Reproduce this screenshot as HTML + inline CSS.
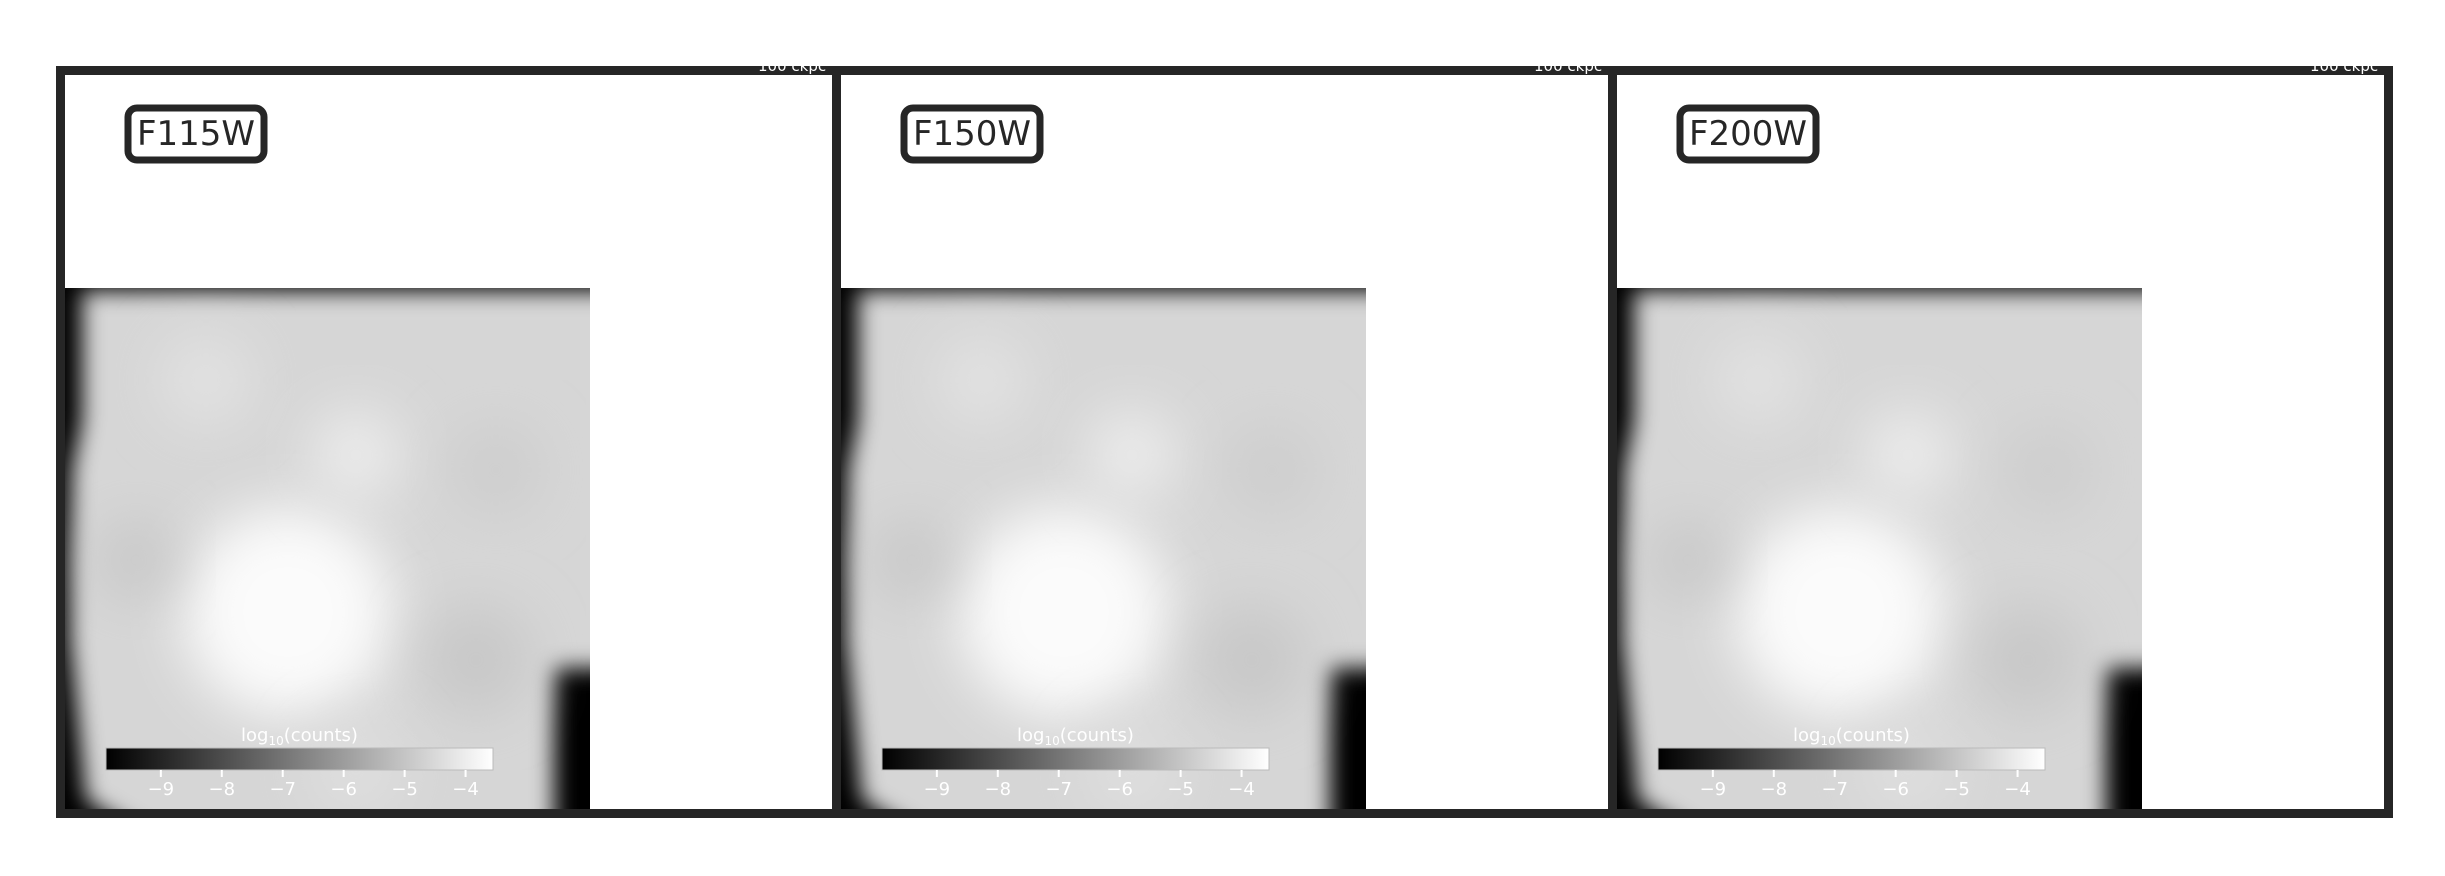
<!DOCTYPE html>
<html><head><meta charset="utf-8">
<style>
html,body{margin:0;padding:0;background:#fff;width:2445px;height:876px;overflow:hidden;font-family:"DejaVu Sans","Liberation Sans",sans-serif;}
svg{display:block}
</style></head>
<body>
<svg id="fig" width="2445" height="876" viewBox="0 0 2445 876" xmlns="http://www.w3.org/2000/svg">
<defs>
<filter id="blur" x="-10%" y="-10%" width="120%" height="120%"><feGaussianBlur stdDeviation="11"/></filter>
<filter id="blur2" x="-50%" y="-50%" width="200%" height="200%"><feGaussianBlur stdDeviation="28"/></filter>
<linearGradient id="cbar" x1="0" x2="1" y1="0" y2="0"><stop offset="0" stop-color="#000"/><stop offset="1" stop-color="#fff"/></linearGradient>
</defs>
</svg>
<script>
const filters=["F115W","F150W","F200W"];
const panelX=[56,832,1608];
const tickValues=[-9,-8,-7,-6,-5,-4];
const cbarMin=-9.9, cbarMax=-3.55;
const NS="http://www.w3.org/2000/svg";
const svgEl=document.getElementById('fig');
function mk(tag,attrs,parent){const e=document.createElementNS(NS,tag);for(const k in attrs)e.setAttribute(k,attrs[k]);(parent||svgEl).appendChild(e);return e;}
const PW=785, frameTop=66, frameBot=818;
const cbX0=106-56, cbX1=493-56;
function xCb(v){return cbX0+(v-cbarMin)/(cbarMax-cbarMin)*(cbX1-cbX0);}
filters.forEach((f,i)=>{
  const g=mk('g',{transform:`translate(${panelX[i]},0)`});
  
  
  const cid='clip'+i;
  const cp=mk('clipPath',{id:cid},g);mk('rect',{x:8,y:288,width:526,height:525},cp);
  const img=mk('g',{'clip-path':`url(#${cid})`},g);
  
  
  mk('rect',{x:8,y:288,width:526,height:525,fill:'#000'},img);
  mk('polygon',{points:'26,291 560,291 560,668 498,668 498,840 96,840 30,800 14,640 16,470 26,420',fill:'#d6d6d6',filter:'url(#blur)'},img);
  mk('circle',{cx:232,cy:612,r:105,fill:'#fbfbfb',filter:'url(#blur2)'},img);
  mk('circle',{cx:300,cy:455,r:45,fill:'#ececec',filter:'url(#blur2)'},img);
  mk('circle',{cx:150,cy:380,r:45,fill:'#e2e2e2',filter:'url(#blur2)'},img);
  mk('circle',{cx:420,cy:660,r:55,fill:'#c8c8c8',filter:'url(#blur2)'},img);
  mk('circle',{cx:440,cy:470,r:45,fill:'#cdcdcd',filter:'url(#blur2)'},img);
  mk('circle',{cx:80,cy:560,r:40,fill:'#c8c8c8',filter:'url(#blur2)'},img);
  mk('circle',{cx:300,cy:770,r:50,fill:'#dedede',filter:'url(#blur2)'},img);
  const fr=mk('rect',{x:4.5,y:frameTop+4.5,width:PW-9,height:frameBot-frameTop-9,fill:'none',stroke:'#262626','stroke-width':9},g);
  
  
  const st=mk('text',{x:702,y:71,fill:'#fff','font-size':15},g);st.textContent='100 ckpc';
  
  
  const lb=mk('rect',{x:72,y:108,width:136,height:52,rx:9,fill:'#fff',stroke:'#262626','stroke-width':7},g);
  
  
  const lt=mk('text',{x:140,y:145,'text-anchor':'middle','font-size':34,fill:'#262626'},g);lt.textContent=f;
  
  
  const ct=mk('text',{x:(cbX0+cbX1)/2,y:741,'text-anchor':'middle','font-size':18,fill:'#fff'},g);
  ct.innerHTML='log<tspan font-size="12" dy="4">10</tspan><tspan dy="-4">(counts)</tspan>';
  
  
  const cb=mk('rect',{x:cbX0,y:748,width:cbX1-cbX0,height:22,fill:'url(#cbar)',stroke:'#bbb','stroke-width':1},g);
  
  
  tickValues.forEach(v=>{
    const x=xCb(v);
    const tk=mk('line',{x1:x,x2:x,y1:770,y2:777,stroke:'#fff','stroke-width':2},g);
    
    
    const tl=mk('text',{x:x,y:795,'text-anchor':'middle','font-size':18,fill:'#fff'},g);
    tl.textContent='\u2212'+Math.abs(v);
    
    
  });
});
</script>
</body></html>
